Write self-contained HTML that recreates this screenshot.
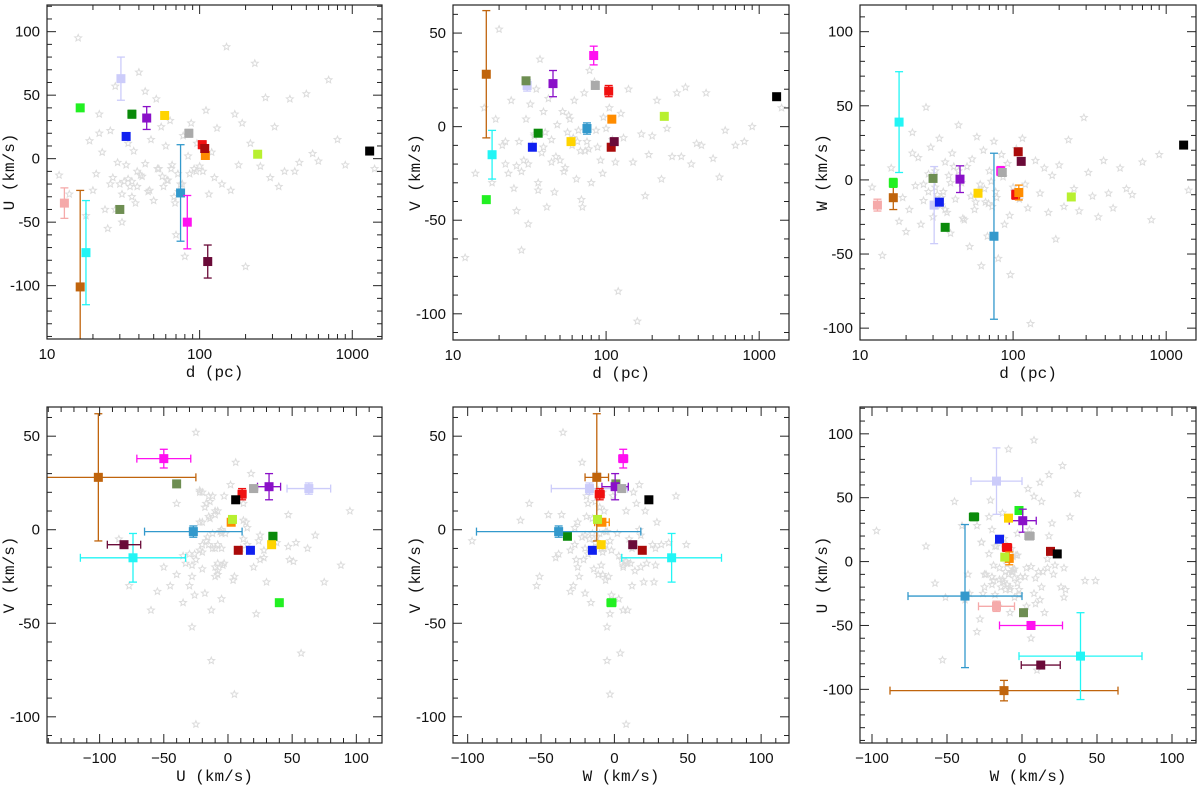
<!DOCTYPE html>
<html><head><meta charset="utf-8">
<style>
html,body{margin:0;padding:0;background:#fff;}
svg{display:block;}
text{font-family:"Liberation Sans",sans-serif;}
.tl{font-size:15px;fill:#111;}
.at{font-family:"Liberation Mono",monospace;font-size:16px;fill:#111;}
</style></head>
<body>
<svg id="fig" width="1200" height="786" viewBox="0 0 1200 786" xmlns="http://www.w3.org/2000/svg"></svg>
<script>
// ---- highlighted objects: distance (pc), U, V, W (km/s) and errors ----
const objColors = ["#f5aaaa","#c0640c","#22f022","#22f5f5","#ccccfa","#6e8e52","#1020f0","#0a8a0a","#8a10c8","#ffd400","#3399cc","#ff10f0","#aaaaaa","#f01010","#ff8c00","#aa0a0a","#6a0a38","#b8f030","#000000"];
const objD  = [13, 16.5, 16.5, 18, 30.5, 30, 33, 36, 45, 59, 75, 83, 85, 104, 109, 108, 113, 240, 1300];
const objU  = [-35, -101, 40, -74, 63, -40, 17.5, 35, 32, 34, -27, -50, 20, 11, 2.5, 8, -81, 3.5, 6];
const objV  = [null, 28, -39, -15, 22, 24.5, -11, -3.5, 23, -8, -1, 38, 22, 19, 4, -11, -8, 5.5, 16];
const objW  = [-17, -12, -2, 39, -17, 1, -15, -32, 0.5, -9, -38, 6, 5, -10, -8.5, 19, 12.5, -11.5, 23.5];
const objEU = [12, 76, 2, 41, 17, 2, 2, 3, 9, 2, 38, 21, 3, 3, 2, 2, 13, 2, 2];
const objEV = [0, 34, 2, 13, 3, 2, 2, 2, 7, 2, 3, 5, 2, 3, 2, 2, 2, 2, 2];
const objEW = [4, 8, 3, 34, 26, 2, 2, 2, 9, 2, 56, 3, 2, 3, 5, 2, 2, 2, 2];
// ---- field stars: d, U, V, W ----
const starD = [12,14,16,18,19,20,21,22,23,24,25,26,27,28,29,30,31,32,33,34,35,36,37,38,39,40,42,44,46,48,50,52,54,56,58,60,62,64,66,68,70,72,75,78,80,84,88,92,96,100,105,110,115,120,125,130,140,150,160,170,180,190,200,215,230,250,270,290,310,330,360,390,420,450,500,550,600,700,800,900,1400,26,31,36,41,47,53,61,69,77,86,95,22,28,34,39,44,57,65,73];
const starU = [-13,-28,95,-45,14,-25,-12,35,5,-40,-55,22,-15,57,-3,-20,-50,-18,-5,12,-22,-30,6,-35,-10,68,-14,53,-26,15,-33,47,-8,25,-22,10,-17,30,-5,-30,-60,-12,-20,18,-77,2,28,-8,12,-6,-10,38,-28,5,-15,24,-20,88,-25,35,-5,28,-85,12,75,-6,48,-15,25,-22,-10,47,-10,-3,51,4,-2,62,15,-5,-8,-20,-28,-18,-13,-25,-8,-17,-35,-20,-12,-10,20,-40,-16,-22,-4,-14,-8,-26];
const starV = [-70,-25,10,-30,4,52,-10,-8,-25,14,-33,-45,-8,-66,-18,4,-20,12,-10,-5,20,-30,36,-14,8,-3,15,-7,-35,1,-18,8,-22,-3,4,-10,14,-28,-2,-13,-43,18,-8,30,-30,24,-11,-18,5,-1,10,-7,-19,-88,7,-6,20,-19,-104,-4,-37,-15,-5,14,-28,-1,-16,18,-16,21,-20,-9,-10,18,-17,-27,-2,-10,-8,0,10,-21,-52,-34,-43,-16,-24,-6,-39,-12,-2,-25,-20,-24,-4,-11,-19,6,-8,-13];
const starW = [-5,-51,8,-28,-12,-35,-20,32,-4,15,-30,-3,49,4,22,-25,6,-10,28,-17,-8,12,-22,3,-36,18,-13,37,-2,-27,9,-45,14,-20,29,-7,-58,20,-15,-38,6,-1,26,-12,-53,17,-30,11,-64,-5,21,-13,28,-3,-19,-97,13,-9,8,-22,3,-40,10,-18,27,-6,-21,42,5,-11,-25,13,-9,-19,8,-6,-10,12,-27,17,-7,-14,-5,-20,9,-26,-11,-3,-16,-8,2,-24,18,-8,-12,-2,6,-15,-6,-18];

const svg = document.getElementById('fig');
const NS = 'http://www.w3.org/2000/svg';
function mk(tag, attrs, parent){ const e=document.createElementNS(NS,tag); for(const k in attrs) e.setAttribute(k,attrs[k]); (parent||svg).appendChild(e); return e; }

function makeScale(lo,hi,p0,p1,log){
  if(log){ const a=Math.log10(lo),b=Math.log10(hi); return v=>p0+(Math.log10(v)-a)/(b-a)*(p1-p0); }
  return v=>p0+(v-lo)/(hi-lo)*(p1-p0);
}

const panels = [
 {id:'d-vs-u', x:[10,1566], y:[-142,121], px:[47,382], py:[5,339], xlog:true, xk:'d', yk:'U', xt:'d (pc)', yt:'U (km/s)', yMaj:[-100,-50,0,50,100]},
 {id:'d-vs-v', x:[10,1566], y:[-114,65], px:[453,789], py:[5,340], xlog:true, xk:'d', yk:'V', xt:'d (pc)', yt:'V (km/s)', yMaj:[-100,-50,0,50]},
 {id:'d-vs-w', x:[10,1566], y:[-108,118], px:[860,1196], py:[5,340], xlog:true, xk:'d', yk:'W', xt:'d (pc)', yt:'W (km/s)', yMaj:[-100,-50,0,50,100]},
 {id:'u-vs-v', x:[-141,120], y:[-114,65.6], px:[47,382], py:[407,743], xk:'U', yk:'V', xt:'U (km/s)', yt:'V (km/s)', xMaj:[-100,-50,0,50,100], yMaj:[-100,-50,0,50]},
 {id:'w-vs-v', x:[-110,119], y:[-114,65.6], px:[453,789], py:[407,743], xk:'W', yk:'V', xt:'W (km/s)', yt:'V (km/s)', xMaj:[-100,-50,0,50,100], yMaj:[-100,-50,0,50]},
 {id:'w-vs-u', x:[-108,116], y:[-142,121], px:[860,1196], py:[407,743], xk:'W', yk:'U', xt:'W (km/s)', yt:'U (km/s)', xMaj:[-100,-50,0,50,100], yMaj:[-100,-50,0,50,100], swapErr:true}
];
const vals = {d:objD,U:objU,V:objV,W:objW};
const errs = {d:null,U:objEU,V:objEV,W:objEW};
const svals = {d:starD,U:starU,V:starV,W:starW};

function starPath(cx,cy,r){
  let s=''; for(let i=0;i<10;i++){ const a=-Math.PI/2+i*Math.PI/5; const rr=i%2?r*0.45:r; s+=(i?'L':'M')+(cx+rr*Math.cos(a)).toFixed(1)+' '+(cy+rr*Math.sin(a)).toFixed(1); } return s+'Z';
}

panels.forEach(P=>{
  const g = mk('g',{});
  
  
  const sx = makeScale(P.x[0],P.x[1],P.px[0],P.px[1],P.xlog);
  const sy = makeScale(P.y[0],P.y[1],P.py[1],P.py[0],false);
  const clipId='c-'+P.id;
  const cp=mk('clipPath',{id:clipId},g);
  mk('rect',{x:P.px[0],y:P.py[0],width:P.px[1]-P.px[0],height:P.py[1]-P.py[0]},cp);
  // field stars
  const sg = mk('g',{'clip-path':'url(#'+clipId+')'},g);
  
  
  const xs=svals[P.xk], ys=svals[P.yk];
  for(let i=0;i<xs.length;i++){
    const p=mk('path',{d:starPath(sx(xs[i]),sy(ys[i]),3.6),fill:'none',stroke:'#dcdcdc','stroke-width':1},sg);
    
    
  }
  // objects
  const og = mk('g',{'clip-path':'url(#'+clipId+')'},g);
  const xv=vals[P.xk], yv=vals[P.yk];
  let xe=errs[P.xk], ye=errs[P.yk];
  if(P.swapErr){ xe=errs[P.yk]; ye=errs[P.xk]; }
  for(let i=0;i<objColors.length;i++){
    if(xv[i]==null||yv[i]==null) continue;
    const cx=sx(xv[i]), cy=sy(yv[i]), c=objColors[i];
    if(xe && xe[i]>2.5){
      const a=sx(xv[i]-xe[i]), b=sx(xv[i]+xe[i]);
      mk('line',{x1:a,x2:b,y1:cy,y2:cy,stroke:c,'stroke-width':1.3},og);
      mk('line',{x1:a,x2:a,y1:cy-4,y2:cy+4,stroke:c,'stroke-width':1.3},og);
      mk('line',{x1:b,x2:b,y1:cy-4,y2:cy+4,stroke:c,'stroke-width':1.3},og);
    }
    if(ye && ye[i]>2.5){
      const a=sy(yv[i]-ye[i]), b=sy(yv[i]+ye[i]);
      mk('line',{x1:cx,x2:cx,y1:a,y2:b,stroke:c,'stroke-width':1.3},og);
      mk('line',{x1:cx-4,x2:cx+4,y1:a,y2:a,stroke:c,'stroke-width':1.3},og);
      mk('line',{x1:cx-4,x2:cx+4,y1:b,y2:b,stroke:c,'stroke-width':1.3},og);
    }
    const r=mk('rect',{x:cx-4.5,y:cy-4.5,width:9,height:9,fill:c},og);
    
    
  }
  // frame
  const fr=mk('rect',{x:P.px[0],y:P.py[0],width:P.px[1]-P.px[0],height:P.py[1]-P.py[0],fill:'none',stroke:'#222','stroke-width':1.2},g);
  
  
  const tk={stroke:'#222','stroke-width':1};
  // x ticks
  if(P.xlog){
    for(let dec=10;dec<=1000;dec*=10){
      for(let m=1;m<10;m++){ const v=dec*m; if(v>P.x[1]) break; const x=sx(v); const L=m==1?9:5;
        mk('line',Object.assign({x1:x,x2:x,y1:P.py[1],y2:P.py[1]-L},tk),g);
        mk('line',Object.assign({x1:x,x2:x,y1:P.py[0],y2:P.py[0]+L},tk),g);
        if(m==1){ const t=mk('text',{x:x,y:P.py[1]+20,'text-anchor':'middle',class:'tl'},g); t.textContent=dec;
            }
      }
    }
  } else {
    for(let v=Math.ceil(P.x[0]/10)*10; v<=P.x[1]; v+=10){ const x=sx(v); const maj=v%50==0; const L=maj?9:5;
      mk('line',Object.assign({x1:x,x2:x,y1:P.py[1],y2:P.py[1]-L},tk),g);
      mk('line',Object.assign({x1:x,x2:x,y1:P.py[0],y2:P.py[0]+L},tk),g);
    }
    P.xMaj.forEach(v=>{ const t=mk('text',{x:sx(v),y:P.py[1]+20,'text-anchor':'middle',class:'tl'},g); t.textContent=(v<0?'\u2212':'')+Math.abs(v);
        });
  }
  for(let v=Math.ceil(P.y[0]/10)*10; v<=P.y[1]; v+=10){ const y=sy(v); const maj=v%50==0; const L=maj?9:5;
    mk('line',Object.assign({x1:P.px[0],x2:P.px[0]+L,y1:y,y2:y},tk),g);
    mk('line',Object.assign({x1:P.px[1],x2:P.px[1]-L,y1:y,y2:y},tk),g);
  }
  P.yMaj.forEach(v=>{ const t=mk('text',{x:P.px[0]-7,y:sy(v)+5,'text-anchor':'end',class:'tl'},g); t.textContent=(v<0?'-':'')+Math.abs(v);
      });
  const xt=mk('text',{x:(P.px[0]+P.px[1])/2,y:P.py[1]+38,'text-anchor':'middle',class:'at'},g); xt.textContent=P.xt;
   
  const yx=P.px[0]-33, yy=(P.py[0]+P.py[1])/2;
  const yt=mk('text',{x:yx,y:yy,'text-anchor':'middle',class:'at',transform:'rotate(-90 '+yx+' '+yy+')'},g); yt.textContent=P.yt;
   
});
</script>
</body></html>
